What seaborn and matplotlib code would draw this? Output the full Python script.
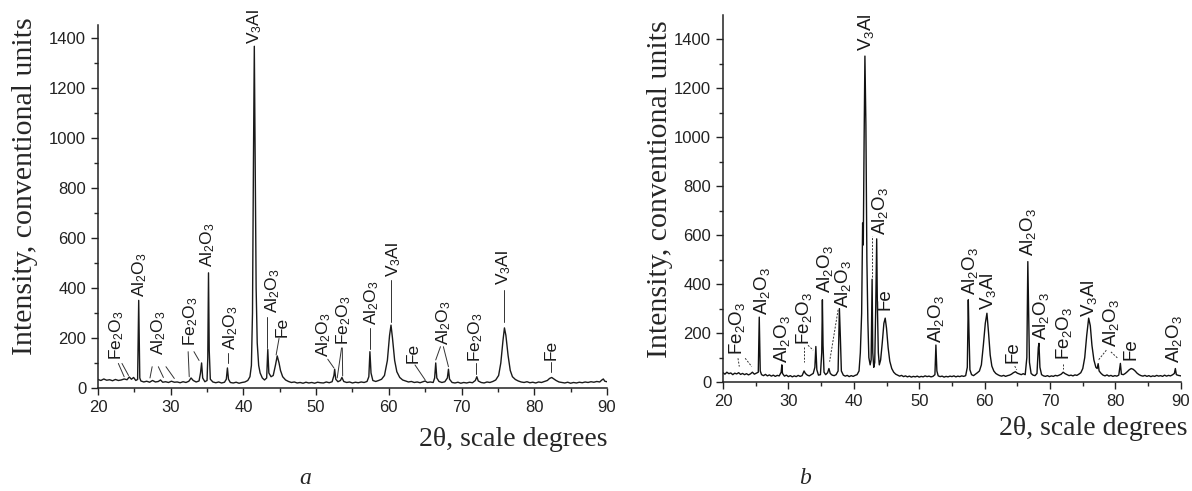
import numpy as np
import pandas as pd
import matplotlib
matplotlib.use("Agg")
import matplotlib.pyplot as plt
import seaborn as sns

# ---- pattern a: 2theta / intensity ----
a_theta = [20.0, 20.4, 20.8, 21.2, 21.6, 22.0, 22.4, 22.8, 23.2, 23.6, 24.0, 24.3, 24.6, 24.9, 25.2, 25.45,
           25.6, 25.75, 25.9, 26.3, 26.7, 27.1, 27.5, 27.9, 28.3, 28.6, 28.9, 29.3, 29.7, 30.1, 30.5, 30.9,
           31.3, 31.7, 32.1, 32.5, 32.8, 33.1, 33.5, 33.9, 34.1, 34.25, 34.4, 34.7, 35.0, 35.1, 35.2, 35.3,
           35.45, 35.8, 36.2, 36.6, 37.0, 37.4, 37.65, 37.8, 37.95, 38.2, 38.6, 39.0, 39.4, 39.8, 40.2, 40.6,
           40.9, 41.1, 41.25, 41.38, 41.5, 41.62, 41.75, 41.9, 42.1, 42.3, 42.6, 42.9, 43.2, 43.35, 43.5, 43.8,
           44.1, 44.4, 44.65, 44.9, 45.1, 45.4, 45.8, 46.2, 46.6, 47.0, 47.4, 47.8, 48.2, 48.6, 49.0, 49.4,
           49.8, 50.2, 50.6, 51.0, 51.4, 51.8, 52.2, 52.45, 52.55, 52.7, 53.0, 53.35, 53.55, 53.8, 54.2, 54.6,
           55.0, 55.4, 55.8, 56.2, 56.6, 57.0, 57.25, 57.4, 57.55, 57.8, 58.2, 58.6, 59.0, 59.4, 59.8, 60.1,
           60.3, 60.5, 60.8, 61.1, 61.5, 61.9, 62.3, 62.7, 63.1, 63.5, 63.9, 64.3, 64.7, 65.0, 65.3, 65.7,
           66.1, 66.3, 66.45, 66.6, 66.9, 67.3, 67.7, 68.05, 68.2, 68.35, 68.7, 69.1, 69.5, 69.9, 70.3, 70.7,
           71.1, 71.5, 71.9, 72.1, 72.3, 72.7, 73.1, 73.5, 73.9, 74.3, 74.7, 75.1, 75.4, 75.7, 75.9, 76.1,
           76.4, 76.7, 77.0, 77.4, 77.8, 78.2, 78.6, 79.0, 79.4, 79.8, 80.2, 80.6, 81.0, 81.4, 81.8, 82.1,
           82.4, 82.7, 83.0, 83.4, 83.8, 84.2, 84.6, 85.0, 85.4, 85.8, 86.2, 86.6, 87.0, 87.4, 87.8, 88.2,
           88.6, 89.0, 89.3, 89.5, 89.7, 90.0]
a_counts = [34, 30, 36, 31, 33, 29, 34, 30, 32, 36, 33, 44, 35, 42, 30, 34,
            350, 40, 28, 24, 27, 23, 30, 24, 26, 32, 23, 25, 22, 27, 23, 24,
            21, 25, 22, 27, 40, 30, 24, 28, 60, 100, 40, 25, 30, 120, 460, 150,
            35, 24, 21, 24, 20, 23, 35, 80, 35, 22, 20, 23, 19, 22, 24, 30,
            45, 90, 300, 900, 1365, 900, 400, 180, 90, 60, 40, 32, 40, 154, 60, 45,
            50, 90, 128, 100, 70, 45, 32, 26, 22, 24, 20, 22, 19, 23, 20, 22,
            19, 23, 21, 20, 24, 21, 25, 50, 75, 35, 25, 30, 42, 26, 22, 24,
            20, 23, 21, 24, 22, 26, 45, 145, 60, 30, 26, 30, 35, 50, 110, 210,
            251, 200, 110, 65, 42, 32, 28, 24, 26, 22, 24, 21, 25, 28, 22, 24,
            22, 40, 100, 40, 26, 22, 25, 40, 75, 35, 22, 20, 23, 19, 22, 20,
            23, 21, 30, 45, 28, 22, 20, 24, 22, 26, 32, 50, 100, 190, 240, 210,
            130, 70, 45, 34, 28, 24, 22, 25, 21, 23, 20, 24, 22, 26, 30, 38,
            42, 36, 30, 24, 22, 20, 23, 19, 22, 20, 23, 21, 24, 22, 25, 23,
            26, 24, 32, 36, 27, 25]

# ---- pattern b ----
b_theta = [20.0, 20.3, 20.6, 20.9, 21.2, 21.5, 21.8, 22.1, 22.4, 22.7, 23.0, 23.3, 23.6, 23.9, 24.2, 24.5,
           24.8, 25.1, 25.4, 25.55, 25.7, 25.9, 26.2, 26.5, 26.8, 27.1, 27.4, 27.7, 28.0, 28.3, 28.6, 28.9,
           29.0, 29.1, 29.4, 29.7, 30.0, 30.3, 30.6, 30.9, 31.2, 31.5, 31.8, 32.1, 32.4, 32.6, 32.9, 33.2,
           33.5, 33.8, 34.05, 34.2, 34.35, 34.6, 34.9, 35.1, 35.2, 35.3, 35.45, 35.7, 36.0, 36.2, 36.4, 36.7,
           37.0, 37.3, 37.6, 37.8, 37.95, 38.1, 38.4, 38.7, 39.0, 39.3, 39.6, 39.9, 40.2, 40.5, 40.8, 41.0,
           41.2, 41.35, 41.45, 41.58, 41.7, 41.85, 42.0, 42.15, 42.3, 42.5, 42.65, 42.8, 42.9, 43.05, 43.2, 43.35,
           43.5, 43.6, 43.75, 43.9, 44.1, 44.35, 44.6, 44.8, 45.0, 45.25, 45.5, 45.8, 46.1, 46.4, 46.7, 47.0,
           47.3, 47.6, 47.9, 48.2, 48.5, 48.8, 49.1, 49.4, 49.7, 50.0, 50.3, 50.6, 50.9, 51.2, 51.5, 51.8,
           52.1, 52.4, 52.55, 52.7, 52.9, 53.2, 53.5, 53.8, 54.1, 54.4, 54.7, 55.0, 55.3, 55.6, 55.9, 56.2,
           56.5, 56.8, 57.1, 57.35, 57.5, 57.6, 57.75, 58.0, 58.3, 58.6, 58.9, 59.2, 59.5, 59.8, 60.1, 60.35,
           60.6, 60.85, 61.1, 61.4, 61.7, 62.0, 62.3, 62.6, 62.9, 63.2, 63.5, 63.8, 64.1, 64.4, 64.7, 65.0,
           65.3, 65.6, 65.9, 66.2, 66.45, 66.6, 66.7, 66.85, 67.1, 67.4, 67.7, 68.0, 68.2, 68.3, 68.45, 68.7,
           69.0, 69.3, 69.6, 69.9, 70.2, 70.5, 70.8, 71.1, 71.4, 71.7, 72.0, 72.3, 72.6, 72.9, 73.2, 73.5,
           73.8, 74.1, 74.4, 74.7, 75.0, 75.3, 75.6, 75.9, 76.15, 76.4, 76.7, 77.0, 77.2, 77.35, 77.5, 77.8,
           78.1, 78.4, 78.7, 79.0, 79.3, 79.6, 79.9, 80.2, 80.5, 80.75, 80.9, 81.2, 81.5, 81.8, 82.1, 82.4,
           82.7, 83.0, 83.3, 83.6, 83.9, 84.2, 84.5, 84.8, 85.1, 85.4, 85.7, 86.0, 86.3, 86.6, 86.9, 87.2,
           87.5, 87.8, 88.1, 88.4, 88.7, 89.0, 89.15, 89.3, 89.6, 90.0]
b_counts = [38, 32, 40, 34, 37, 30, 36, 33, 38, 31, 35, 30, 34, 29, 33, 40,
            32, 36, 40, 265, 45, 30, 26, 31, 25, 29, 24, 28, 23, 27, 25, 40,
            70, 35, 24, 28, 22, 26, 21, 25, 22, 27, 23, 26, 45, 35, 28, 25,
            30, 35, 60, 145, 50, 28, 30, 120, 336, 150, 40, 30, 38, 55, 35, 28,
            26, 30, 45, 300, 180, 45, 28, 24, 27, 22, 26, 23, 27, 30, 45, 120,
            280, 650, 560, 1000, 1332, 1050, 500, 250, 100, 70, 90, 420, 120, 60, 80, 300,
            585, 320, 120, 70, 90, 160, 240, 261, 220, 140, 85, 55, 40, 32, 28, 24,
            27, 22, 25, 21, 24, 20, 23, 21, 24, 20, 23, 21, 25, 22, 24, 21,
            23, 30, 151, 45, 25, 22, 24, 20, 23, 21, 24, 22, 25, 21, 24, 22,
            25, 23, 26, 60, 336, 210, 50, 30, 26, 32, 38, 45, 70, 150, 240, 281,
            200, 110, 65, 45, 35, 30, 26, 24, 27, 23, 26, 28, 32, 38, 42, 36,
            33, 30, 34, 30, 100, 492, 330, 80, 35, 28, 26, 35, 140, 158, 60, 30,
            25, 23, 26, 22, 25, 23, 27, 25, 28, 32, 40, 34, 30, 26, 28, 25,
            29, 27, 32, 38, 55, 100, 190, 261, 230, 150, 90, 60, 55, 75, 45, 35,
            28, 25, 29, 24, 27, 23, 26, 24, 28, 76, 32, 30, 35, 42, 50, 55,
            52, 45, 36, 30, 26, 24, 27, 23, 26, 22, 25, 23, 27, 24, 26, 23,
            28, 24, 27, 25, 29, 35, 55, 30, 27, 25]

AL = r"Al$_2$O$_3$"
FE2 = r"Fe$_2$O$_3$"
V3 = r"V$_3$Al"

# phase labels: text, 2theta, intensity at text foot
a_labels = [FE2, AL, AL, FE2, AL, AL, V3, AL, "Fe", AL, FE2, AL, V3, "Fe", AL, FE2, V3, "Fe"]
a_lab_x = [22.5, 25.7, 28.4, 32.8, 35.1, 38.3, 41.5, 44.0, 45.3, 51.0, 53.8, 57.6, 60.6, 63.4, 67.5, 72.0, 75.85, 82.3]
a_lab_y = [112, 362, 132, 168, 484, 150, 1376, 298, 205, 125, 170, 251, 444, 98, 171, 105, 411, 112]
a_leaders = [[(22.8, 98), (23.6, 45)], [(23.3, 98), (24.2, 50)],
             [(27.45, 85), (27.15, 40)], [(28.3, 85), (29.0, 42)], [(29.35, 85), (30.5, 38)],
             [(32.4, 145), (32.55, 45)], [(33.2, 145), (33.9, 110)],
             [(37.85, 100), (37.85, 140)], [(43.3, 160), (43.3, 284)], [(44.9, 198), (44.5, 132)],
             [(51.6, 115), (52.45, 80)], [(53.5, 160), (52.9, 40)], [(53.6, 160), (53.65, 48)],
             [(57.35, 155), (57.35, 238)], [(60.3, 265), (60.3, 431)], [(63.6, 92), (65.0, 32)],
             [(67.1, 165), (66.45, 112)], [(67.5, 165), (68.2, 85)], [(72.0, 55), (72.0, 98)],
             [(75.85, 262), (75.85, 391)], [(82.3, 62), (82.3, 105)]]

b_labels = [FE2, AL, AL, FE2, AL, AL, V3, AL, "Fe", AL, AL, V3, "Fe", AL, AL, FE2, V3, AL, "Fe", AL]
b_lab_x = [22.1, 25.9, 29.0, 32.4, 35.6, 38.4, 41.9, 44.0, 44.7, 52.6, 57.7, 60.5, 64.3, 66.6, 68.65, 72.2, 76.0, 79.3, 82.4, 89.0]
b_lab_y = [110, 274, 76, 151, 363, 302, 1352, 602, 295, 158, 356, 295, 76, 513, 172, 90, 267, 144, 90, 76]
b_leaders = [[(22.3, 97), (22.5, 63)], [(23.4, 97), (24.4, 63)],
             [(32.4, 141), (32.4, 80)], [(33.0, 150), (33.8, 130)],
             [(37.6, 295), (36.3, 83)], [(42.8, 430), (42.8, 595)],
             [(64.6, 65), (64.9, 50)], [(72.0, 75), (72.0, 55)],
             [(78.6, 130), (77.4, 90)], [(79.3, 123), (80.35, 97)]]

sns.set_style("ticks")
plt.rcParams["font.family"] = ["Liberation Sans", "DejaVu Sans"]
plt.rcParams["mathtext.default"] = "regular"

fig = plt.figure(figsize=(11.92, 4.91), dpi=100)
ax_a = fig.add_axes([0.0822, 0.2098, 0.427, 0.7393])
ax_b = fig.add_axes([0.6065, 0.2220, 0.3842, 0.7475])

df_a = pd.DataFrame({"theta": a_theta, "counts": a_counts})
df_b = pd.DataFrame({"theta": b_theta, "counts": b_counts})
sns.lineplot(data=df_a, x="theta", y="counts", ax=ax_a, color="#1a1a1a", lw=1.0, estimator=None, sort=False)
sns.lineplot(data=df_b, x="theta", y="counts", ax=ax_b, color="#111111", lw=1.0, estimator=None, sort=False)

panels = [(ax_a, a_labels, a_lab_x, a_lab_y, a_leaders, 1450, 12.5, "-"),
          (ax_b, b_labels, b_lab_x, b_lab_y, b_leaders, 1500, 13.5, ":")]
for ax, labs, lx, ly, leads, ytop, fs, ls in panels:
    ax.set_xlim(20, 90)
    ax.set_ylim(0, ytop)
    ax.set_xticks(np.arange(20, 91, 10))
    ax.set_xticks(np.arange(25, 90, 10), minor=True)
    ax.set_yticks(np.arange(0, 1401, 200))
    ax.set_yticks(np.arange(100, 1500, 200), minor=True)
    ax.tick_params(which="major", direction="out", length=5, width=1, labelsize=12, colors="#222222")
    ax.tick_params(which="minor", direction="out", length=3, width=1)
    ax.set_xlabel("")
    ax.set_ylabel("")
    sns.despine(ax=ax)
    for sp in ax.spines.values():
        sp.set_linewidth(1.1)
        sp.set_color("#222222")
    for t, x, y in zip(labs, lx, ly):
        ax.text(x, y, t, rotation=90, ha="center", va="bottom", fontsize=fs, color="#1a1a1a", clip_on=False)
    for seg in leads:
        (x0, y0), (x1, y1) = seg
        ax.plot([x0, x1], [y0, y1], color="#333333", lw=0.7, ls=ls if ls == "-" else (0, (2, 1.5)))

serif = ["Liberation Serif", "DejaVu Serif"]
fig.text(0.021, 0.621, "Intensity, conventional units", rotation=90, ha="center", va="center",
         fontsize=21.5, family=serif)
fig.text(0.5537, 0.615, "Intensity, conventional units", rotation=90, ha="center", va="center",
         fontsize=21.5, family=serif)
fig.text(0.510, 0.104, "2θ, scale degrees", ha="right", va="center", fontsize=20, family=serif)
fig.text(0.9966, 0.128, "2θ, scale degrees", ha="right", va="center", fontsize=20, family=serif)
fig.text(0.256, 0.026, "a", ha="center", va="center", fontsize=17, style="italic", family=serif)
fig.text(0.675, 0.026, "b", ha="center", va="center", fontsize=17, style="italic", family=serif)

fig.savefig("out.png", dpi=100)
